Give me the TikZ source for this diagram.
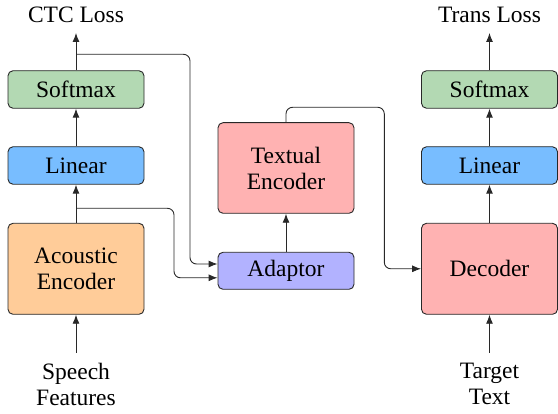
\documentclass[tikz,border=0pt]{standalone}
\usepackage{fontspec}
\setmainfont{Liberation Serif}
\usetikzlibrary{arrows.meta}
\definecolor{smgreen}{RGB}{179,217,179}
\definecolor{linblue}{RGB}{120,189,255}
\definecolor{acorange}{RGB}{255,204,153}
\definecolor{encpink}{RGB}{255,178,178}
\definecolor{adpurple}{RGB}{178,178,255}
\definecolor{edge}{RGB}{40,40,40}
\tikzset{
  blk/.style={draw=edge, line width=0.9pt, rounded corners=5pt, minimum width=136pt, inner sep=0pt, align=center},
  small/.style={blk, minimum height=37.5pt},
  big/.style={blk, minimum height=91pt},
  lbl/.style={inner sep=0pt, align=center},
  conn/.style={draw=edge, line width=0.9pt, -{Latex[length=9pt,width=7pt]}},
  elbow/.style={conn, rounded corners=6.5pt}
}
\begin{document}
\begin{tikzpicture}[x=1pt,y=-1pt, font=\fontsize{23.5}{26}\selectfont]
\useasboundingbox (0,0) rectangle (558,414);
% left column
\node[small, fill=smgreen] (sm1) at (76,89.5) {Softmax};
\node[small, fill=linblue] (lin1) at (76,165.5) {Linear};
\node[big, fill=acorange] (ac) at (76,268.8) {Acoustic\\Encoder};
\node[lbl, anchor=south, inner ysep=10pt, text depth=0pt] (ctc) at (76,33) {CTC Loss};
\node[lbl, anchor=north, inner ysep=10pt] (sp) at (76,353) {Speech\\Features};
% middle column
\node[big, minimum height=90.6pt, fill=encpink] (te) at (286,168) {Textual\\Encoder};
\node[small, minimum height=37pt, fill=adpurple] (ad) at (286,270.8) {Adaptor};
% right column
\node[small, fill=smgreen] (sm2) at (489.5,89.5) {Softmax};
\node[small, fill=linblue] (lin2) at (489.5,165.5) {Linear};
\node[big, fill=encpink] (dec) at (489.5,268.8) {Decoder};
\node[lbl, anchor=south, inner ysep=10pt, text depth=0pt] (trans) at (489.5,33) {Trans Loss};
\node[lbl, anchor=north, inner ysep=10pt] (tt) at (489.5,353) {Target\\Text};
% branch points
\coordinate (b1) at (76,54.3);
\coordinate (b2) at (76,208.3);
% vertical arrows
\draw[conn] (sp) -- (ac);
\draw[conn] (ac) -- (lin1);
\draw[conn] (lin1) -- (sm1);
\draw[conn] (sm1) -- (ctc);
\draw[conn] (ad) -- (te);
\draw[conn] (tt) -- (dec);
\draw[conn] (dec) -- (lin2);
\draw[conn] (lin2) -- (sm2);
\draw[conn] (sm2) -- (trans);
% bent connectors
\draw[elbow] (b1) -- (190,54.3) -- (190,264) -- ([yshift=6.8pt]ad.west);
\draw[elbow] (b2) -- (174,208.3) -- (174,277.8) -- ([yshift=-7pt]ad.west);
\draw[elbow] (te.north) -- (286,107.3) -- (384.3,107.3) -- (384.3,268.8) -- (dec.west);
\end{tikzpicture}
\end{document}
